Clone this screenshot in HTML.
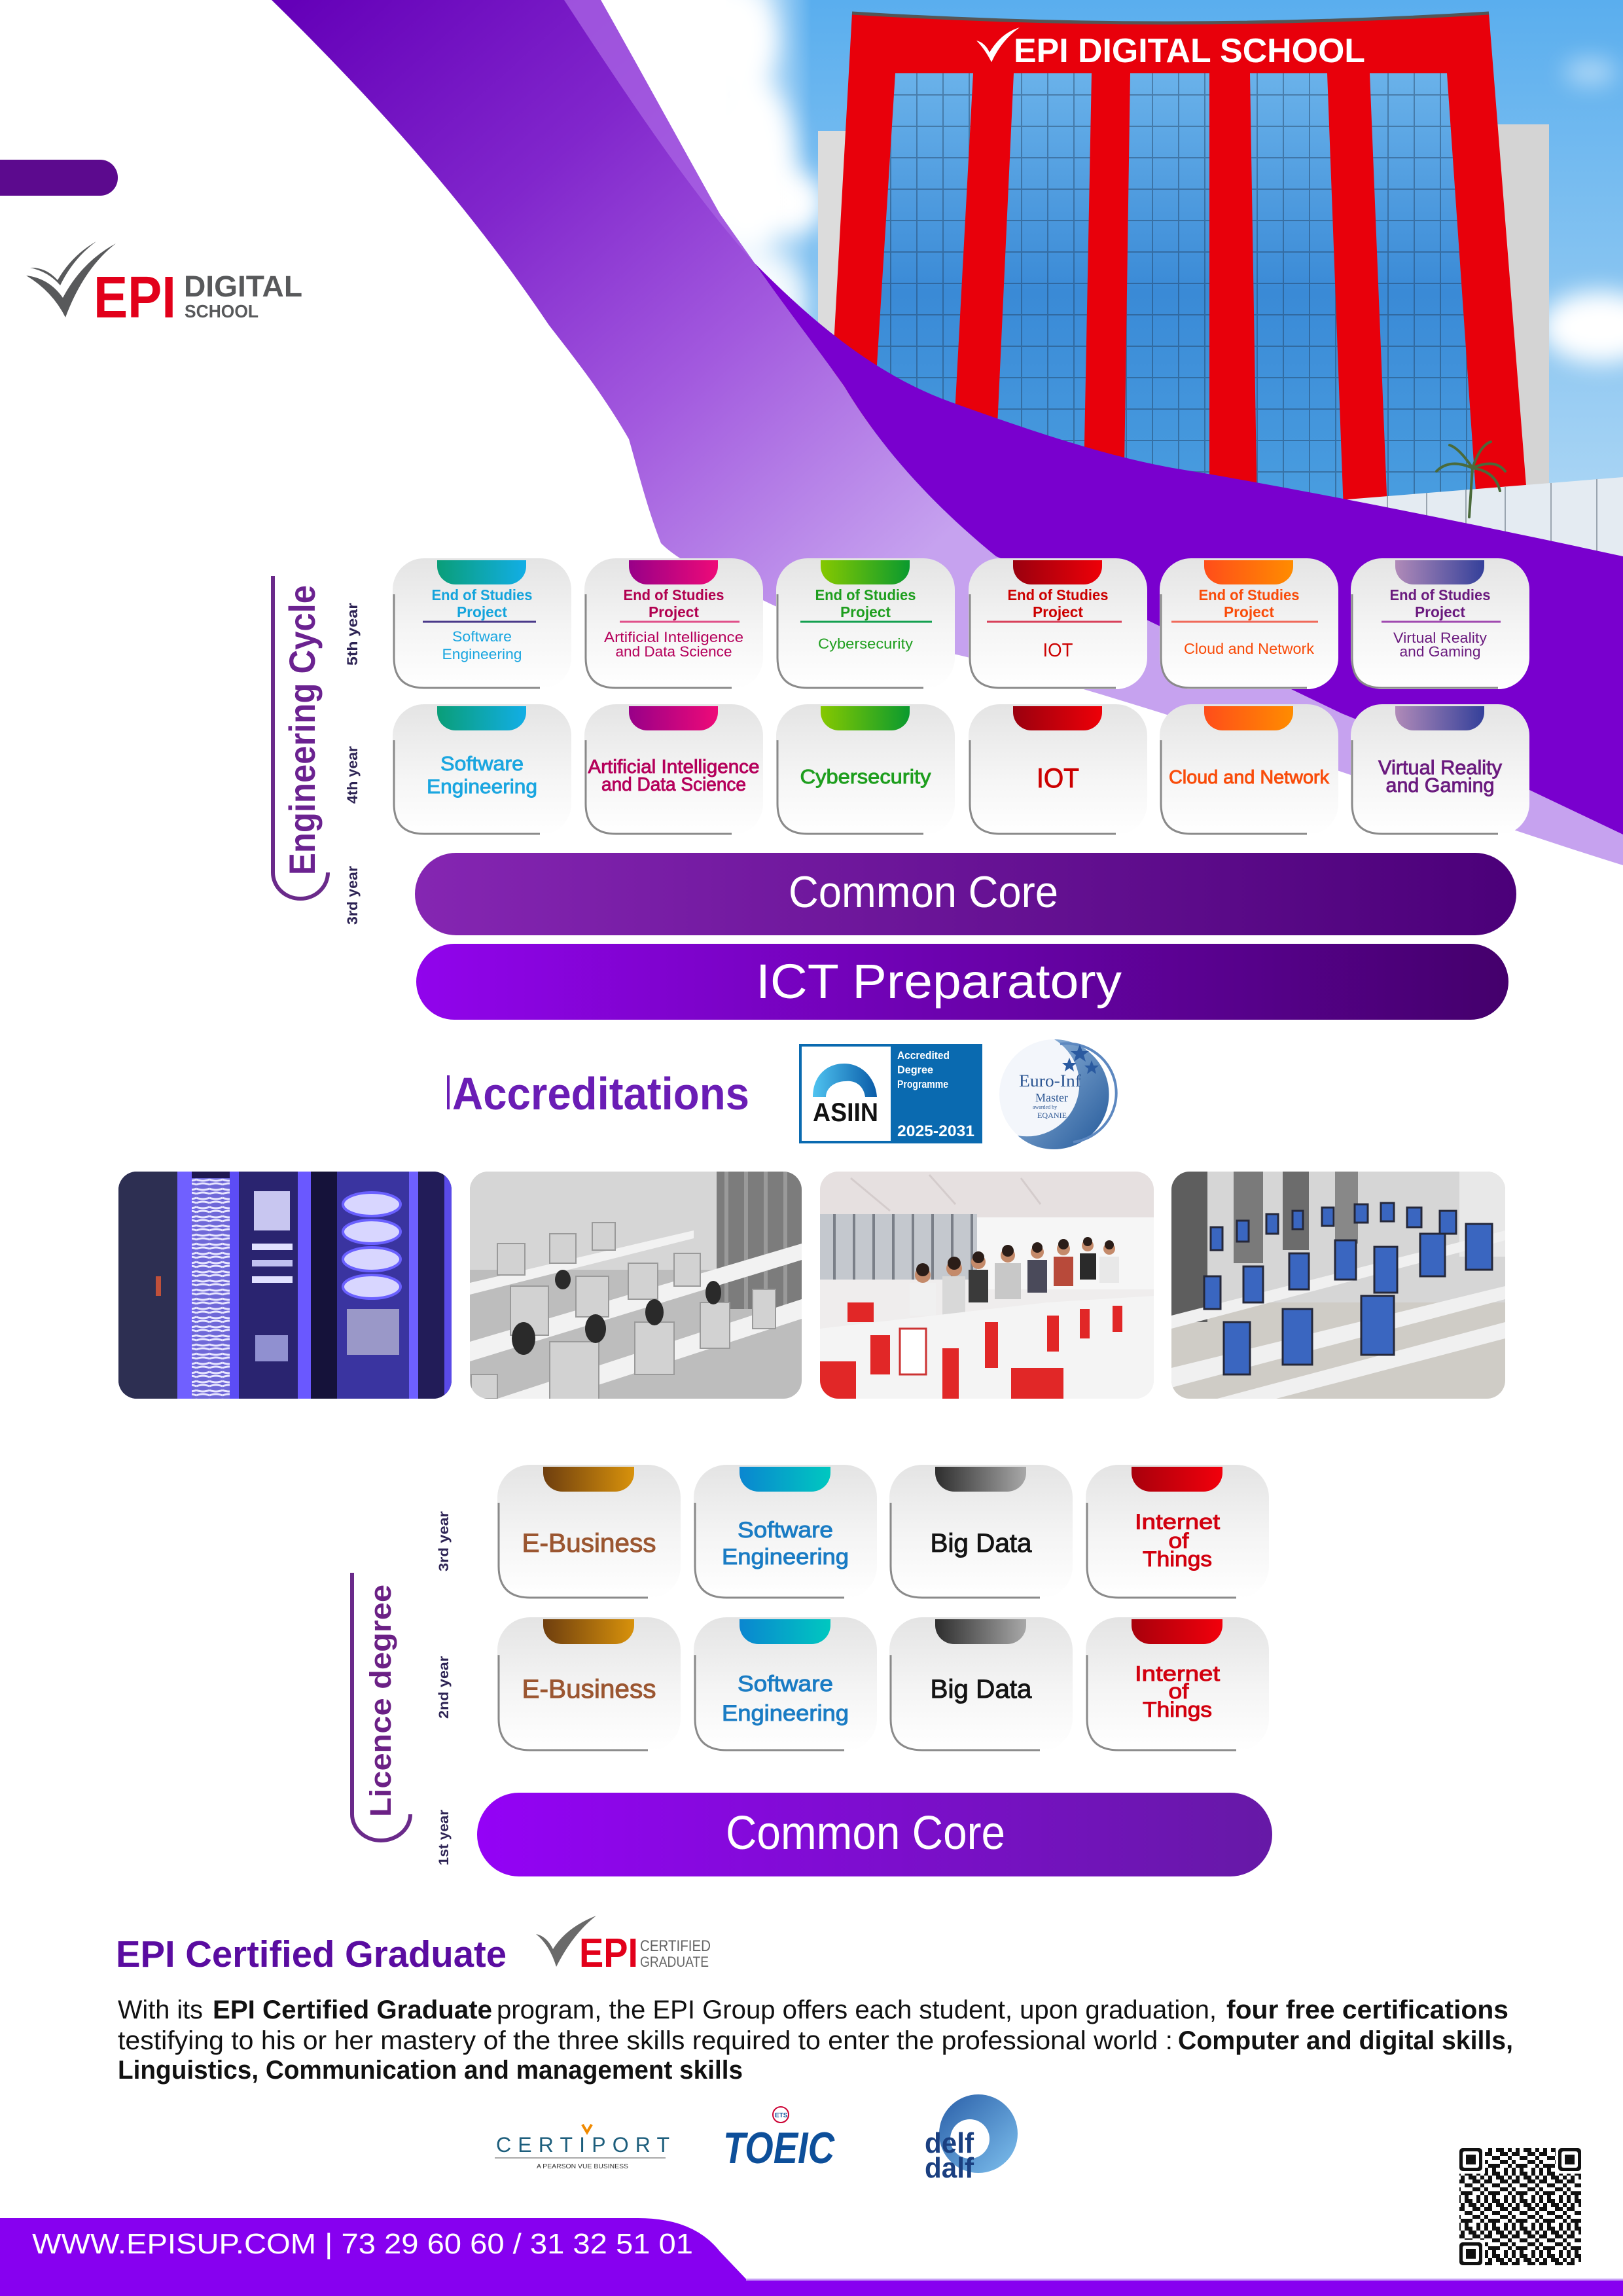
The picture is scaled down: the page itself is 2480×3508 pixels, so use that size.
<!DOCTYPE html>
<html><head><meta charset="utf-8"><style>html,body{margin:0;padding:0;background:#fff}svg{display:block}</style></head>
<body>
<svg xmlns="http://www.w3.org/2000/svg" width="2480" height="3508" viewBox="0 0 2480 3508" font-family="'Liberation Sans', sans-serif">
<defs>
<linearGradient id="sky" x1="0" y1="0" x2="0" y2="1"><stop offset="0" stop-color="#5aaeee"/><stop offset="1" stop-color="#b8dcf5"/></linearGradient>
<linearGradient id="skyFade" x1="0" y1="0" x2="1" y2="0"><stop offset="0" stop-color="#fff"/><stop offset=".45" stop-color="#fff" stop-opacity=".7"/><stop offset="1" stop-color="#fff" stop-opacity="0"/></linearGradient>
<linearGradient id="glass" x1="0" y1="0" x2="0" y2="1"><stop offset="0" stop-color="#6ab2ea"/><stop offset=".5" stop-color="#3a8ad6"/><stop offset="1" stop-color="#4a9ee0"/></linearGradient>
<pattern id="grid" width="40" height="48" patternUnits="userSpaceOnUse"><path d="M0,1H40M1,0V48" stroke="#1c3450" stroke-width="2" opacity=".4"/></pattern>
<linearGradient id="bandG" gradientUnits="userSpaceOnUse" x1="450" y1="0" x2="1300" y2="950"><stop offset="0" stop-color="#6400b8"/><stop offset=".35" stop-color="#8126cc"/><stop offset=".65" stop-color="#a259de"/><stop offset="1" stop-color="#c6a2ef"/></linearGradient>
<linearGradient id="cardG" x1="0" y1="0" x2="0" y2="1"><stop offset="0" stop-color="#e4e4e4"/><stop offset=".55" stop-color="#f5f5f5"/><stop offset="1" stop-color="#ffffff"/></linearGradient>
<linearGradient id="tSW"><stop offset="0" stop-color="#0a9e78"/><stop offset="1" stop-color="#12aee6"/></linearGradient>
<linearGradient id="tAI"><stop offset="0" stop-color="#980088"/><stop offset="1" stop-color="#ee0a78"/></linearGradient>
<linearGradient id="tCY"><stop offset="0" stop-color="#86c800"/><stop offset="1" stop-color="#0a9a2e"/></linearGradient>
<linearGradient id="tIO"><stop offset="0" stop-color="#9a000e"/><stop offset="1" stop-color="#ee0008"/></linearGradient>
<linearGradient id="tCL"><stop offset="0" stop-color="#ff4d1a"/><stop offset="1" stop-color="#ff8c00"/></linearGradient>
<linearGradient id="tVR"><stop offset="0" stop-color="#b08ab8"/><stop offset="1" stop-color="#34409a"/></linearGradient>
<linearGradient id="tEB"><stop offset="0" stop-color="#6e3e0e"/><stop offset="1" stop-color="#d8920c"/></linearGradient>
<linearGradient id="tSE"><stop offset="0" stop-color="#0a86d0"/><stop offset="1" stop-color="#00c8c0"/></linearGradient>
<linearGradient id="tBD"><stop offset="0" stop-color="#2e2e2e"/><stop offset="1" stop-color="#a8a8a8"/></linearGradient>
<linearGradient id="tIT"><stop offset="0" stop-color="#a8000c"/><stop offset="1" stop-color="#f2000c"/></linearGradient>
<linearGradient id="cc1G"><stop offset="0" stop-color="#8526b2"/><stop offset="1" stop-color="#4b0079"/></linearGradient>
<linearGradient id="ictG"><stop offset="0" stop-color="#9104ec"/><stop offset="1" stop-color="#44006c"/></linearGradient>
<linearGradient id="cc2G"><stop offset="0" stop-color="#9402f6"/><stop offset="1" stop-color="#6619a6"/></linearGradient>
<linearGradient id="brE" x1="0" y1="0" x2="0" y2="1"><stop offset="0" stop-color="#6a2a8a" stop-opacity="0"/><stop offset=".4" stop-color="#d9c6e4"/><stop offset="1" stop-color="#6a2a8a"/></linearGradient>
<linearGradient id="archG" x1="0" y1="0" x2="1" y2="0"><stop offset="0" stop-color="#4fc3f0"/><stop offset="1" stop-color="#0a5ca8"/></linearGradient>
<linearGradient id="euroG" x1="0" y1="0" x2="1" y2="1"><stop offset="0" stop-color="#9cbde0"/><stop offset="1" stop-color="#23599a"/></linearGradient>
<linearGradient id="delfG" x1="0" y1="0" x2="1" y2="1"><stop offset="0" stop-color="#2a5fa8"/><stop offset="1" stop-color="#7ec0ee"/></linearGradient>
<filter id="blur" x="-50%" y="-50%" width="200%" height="200%"><feGaussianBlur stdDeviation="18"/></filter>
<pattern id="cable" width="20" height="14" patternUnits="userSpaceOnUse"><rect width="20" height="14" fill="#6f68d8"/><path d="M0,4 Q10,0 20,4 M0,10 Q10,14 20,10" stroke="#e8e6ff" stroke-width="3" fill="none"/></pattern>
<pattern id="qr" width="42" height="42" patternUnits="userSpaceOnUse"><g fill="#111"><rect x="0" y="0" width="6" height="6"/><rect x="12" y="0" width="6" height="6"/><rect x="18" y="0" width="6" height="6"/><rect x="30" y="0" width="6" height="6"/><rect x="6" y="6" width="6" height="6"/><rect x="18" y="6" width="6" height="6"/><rect x="24" y="6" width="6" height="6"/><rect x="36" y="6" width="6" height="6"/><rect x="0" y="12" width="6" height="6"/><rect x="6" y="12" width="6" height="6"/><rect x="24" y="12" width="6" height="6"/><rect x="30" y="12" width="6" height="6"/><rect x="12" y="18" width="6" height="6"/><rect x="18" y="18" width="6" height="6"/><rect x="36" y="18" width="6" height="6"/><rect x="0" y="24" width="6" height="6"/><rect x="24" y="24" width="6" height="6"/><rect x="30" y="24" width="6" height="6"/><rect x="6" y="30" width="6" height="6"/><rect x="12" y="30" width="6" height="6"/><rect x="18" y="30" width="6" height="6"/><rect x="36" y="30" width="6" height="6"/><rect x="0" y="36" width="6" height="6"/><rect x="12" y="36" width="6" height="6"/><rect x="30" y="36" width="6" height="6"/></g></pattern>
<clipPath id="cp1"><rect x="181" y="1790" width="509" height="347" rx="28"/></clipPath>
<clipPath id="cp2"><rect x="718" y="1790" width="507" height="347" rx="28"/></clipPath>
<clipPath id="cp3"><rect x="1253" y="1790" width="510" height="347" rx="28"/></clipPath>
<clipPath id="cp4"><rect x="1790" y="1790" width="510" height="347" rx="28"/></clipPath>
<g id="cE"><rect width="273" height="200" rx="48" fill="url(#cardG)"/><path d="M2,55 V152 Q2,198 48,198 H225" fill="none" stroke="#8a8a8a" stroke-width="3"/></g>
<g id="cL"><rect width="280" height="205" rx="50" fill="url(#cardG)"/><path d="M2,58 V155 Q2,203 50,203 H230" fill="none" stroke="#8a8a8a" stroke-width="3"/></g>
</defs>

<!-- ===== SKY / BUILDING ===== -->
<rect x="1110" y="0" width="1370" height="900" fill="url(#sky)"/>
<g filter="url(#blur)" fill="#fff">
<ellipse cx="1125" cy="60" rx="60" ry="80"/><ellipse cx="1145" cy="250" rx="70" ry="130"/><ellipse cx="1210" cy="310" rx="50" ry="50"/><ellipse cx="1170" cy="460" rx="60" ry="70" opacity=".85"/><ellipse cx="2445" cy="500" rx="90" ry="55"/><ellipse cx="2430" cy="110" rx="40" ry="20" opacity=".5"/>
</g>
<rect x="1100" y="0" width="140" height="600" fill="url(#skyFade)"/>
<polygon points="1250,200 1302,200 1290,600 1250,600" fill="#dcdcdc"/>
<polygon points="2275,190 2367,190 2367,780 2330,780" fill="#d4d4d4"/>
<path d="M1302,20 Q1786,50 2275,20 L2335,780 L1260,780 Z" fill="#e8000b"/>
<path d="M1302,20 Q1786,50 2275,20" stroke="#555" stroke-width="5" fill="none"/>
<g fill="url(#glass)">
<polygon points="1368,112 1487,112 1451,780 1326,780"/>
<polygon points="1549,112 1668,112 1655,780 1518,780"/>
<polygon points="1727,112 1848,112 1848,780 1717,780"/>
<polygon points="1910,112 2028,112 2053,780 1921,780"/>
<polygon points="2093,112 2211,112 2257,780 2120,780"/>
</g>
<g fill="url(#grid)">
<polygon points="1368,112 1487,112 1451,780 1326,780"/>
<polygon points="1549,112 1668,112 1655,780 1518,780"/>
<polygon points="1727,112 1848,112 1848,780 1717,780"/>
<polygon points="1910,112 2028,112 2053,780 1921,780"/>
<polygon points="2093,112 2211,112 2257,780 2120,780"/>
</g>
<path d="M1492,62 Q1505,65 1512,80 Q1530,50 1558,42 Q1530,62 1515,95 Q1505,75 1492,62 Z" fill="#fff"/>
<text x="1549" y="95" font-size="52" font-weight="bold" fill="#fff" textLength="537" lengthAdjust="spacingAndGlyphs">EPI DIGITAL  SCHOOL</text>
<polygon points="2059,763 2480,729 2480,900 2059,900" fill="#e4ebf2"/>
<g stroke="#9aa5b0" stroke-width="2"><line x1="2120" y1="758" x2="2120" y2="900"/><line x1="2180" y1="753" x2="2180" y2="900"/><line x1="2240" y1="748" x2="2240" y2="900"/><line x1="2300" y1="744" x2="2300" y2="900"/><line x1="2370" y1="738" x2="2370" y2="900"/><line x1="2440" y1="732" x2="2440" y2="900"/></g>
<g stroke="#4a6a3a" stroke-width="4" fill="none" stroke-linecap="round">
<path d="M2245,790 L2250,715"/><path d="M2250,715 Q2215,700 2195,720"/><path d="M2250,715 Q2230,685 2215,680"/><path d="M2250,715 Q2262,680 2278,675"/><path d="M2250,715 Q2285,700 2300,720"/><path d="M2250,715 Q2285,720 2292,750"/>
</g>

<!-- ===== PURPLE SWOOSH ===== -->
<path d="M415,0 L918,0 C980,110 1040,220 1100,327 L1153,402 C1200,470 1240,520 1290,590 C1350,690 1430,775 1522,850 L1752,947 L2050,1090 L2337,1207 L2480,1275 L2480,1322 C2200,1235 1800,1085 1474,1003 C1320,968 1220,945 1172,920 C1090,880 1040,860 1010,830 C990,780 975,720 961,671 C920,600 880,550 839,497 C760,380 640,220 415,0 Z" fill="url(#bandG)"/>
<path d="M862,0 L918,0 C980,110 1040,220 1100,327 L1153,402 C1060,300 960,150 862,0 Z" fill="#a862e2" opacity=".8"/>
<path d="M1153,402 C1230,480 1330,570 1452,614 C1580,660 1700,700 1804,717 C1980,746 2250,800 2480,850 L2480,1275 L2337,1207 L2050,1090 L1752,947 L1522,850 C1430,775 1350,690 1290,590 C1240,520 1200,470 1153,402 Z" fill="#7900ce"/>

<!-- top-left tab & logo -->
<rect x="-40" y="244" width="220" height="55" rx="27" fill="#5c0a8e"/>
<path d="M40,421 Q75,425 96,455 Q125,400 177,372 Q128,410 100,485 Q80,445 40,421 Z" fill="#58595b"/>
<path d="M46,409 Q70,408 88,428 Q110,390 147,369 Q112,395 92,436 Q74,415 46,409 Z" fill="#58595b"/>
<text x="143" y="485" font-size="90" font-weight="bold" fill="#e2001a" textLength="126" lengthAdjust="spacingAndGlyphs">EPI</text>
<text x="281" y="453" font-size="45" font-weight="bold" fill="#58595b" textLength="181" lengthAdjust="spacingAndGlyphs">DIGITAL</text>
<text x="282" y="485" font-size="28" font-weight="bold" fill="#58595b" textLength="113" lengthAdjust="spacingAndGlyphs">SCHOOL</text>

<!-- ===== ENGINEERING CYCLE ===== -->
<path d="M417,880 V1333 A42,40 0 0 0 459,1373 A42,40 0 0 0 501,1333" fill="none" stroke="#6a2a8a" stroke-width="6"/>
<path d="M501,1333 V880" fill="none" stroke="url(#brE)" stroke-width="5"/>
<text transform="translate(481,1337) rotate(-90)" font-size="56" font-weight="bold" fill="#6b2290" textLength="443" lengthAdjust="spacingAndGlyphs">Engineering Cycle</text>
<g font-size="22" font-weight="bold" fill="#2d2354">
<text transform="translate(546,1017) rotate(-90)" textLength="96" lengthAdjust="spacingAndGlyphs">5th year</text>
<text transform="translate(546,1228) rotate(-90)" textLength="88" lengthAdjust="spacingAndGlyphs">4th year</text>
<text transform="translate(546,1413) rotate(-90)" textLength="90" lengthAdjust="spacingAndGlyphs">3rd year</text>
</g>

<use href="#cE" x="600" y="853"/><use href="#cE" x="893" y="853"/><use href="#cE" x="1186" y="853"/><use href="#cE" x="1480" y="853"/><use href="#cE" x="1772" y="853"/><use href="#cE" x="2064" y="853"/>
<use href="#cE" x="600" y="1076"/><use href="#cE" x="893" y="1076"/><use href="#cE" x="1186" y="1076"/><use href="#cE" x="1480" y="1076"/><use href="#cE" x="1772" y="1076"/><use href="#cE" x="2064" y="1076"/>
<g>
<path transform="translate(600,853)" d="M68,3 H204 V12 A28,28 0 0 1 176,40 H96 A28,28 0 0 1 68,12 Z" fill="url(#tSW)"/>
<path transform="translate(893,853)" d="M68,3 H204 V12 A28,28 0 0 1 176,40 H96 A28,28 0 0 1 68,12 Z" fill="url(#tAI)"/>
<path transform="translate(1186,853)" d="M68,3 H204 V12 A28,28 0 0 1 176,40 H96 A28,28 0 0 1 68,12 Z" fill="url(#tCY)"/>
<path transform="translate(1480,853)" d="M68,3 H204 V12 A28,28 0 0 1 176,40 H96 A28,28 0 0 1 68,12 Z" fill="url(#tIO)"/>
<path transform="translate(1772,853)" d="M68,3 H204 V12 A28,28 0 0 1 176,40 H96 A28,28 0 0 1 68,12 Z" fill="url(#tCL)"/>
<path transform="translate(2064,853)" d="M68,3 H204 V12 A28,28 0 0 1 176,40 H96 A28,28 0 0 1 68,12 Z" fill="url(#tVR)"/>
<path transform="translate(600,1076)" d="M68,3 H204 V12 A28,28 0 0 1 176,40 H96 A28,28 0 0 1 68,12 Z" fill="url(#tSW)"/>
<path transform="translate(893,1076)" d="M68,3 H204 V12 A28,28 0 0 1 176,40 H96 A28,28 0 0 1 68,12 Z" fill="url(#tAI)"/>
<path transform="translate(1186,1076)" d="M68,3 H204 V12 A28,28 0 0 1 176,40 H96 A28,28 0 0 1 68,12 Z" fill="url(#tCY)"/>
<path transform="translate(1480,1076)" d="M68,3 H204 V12 A28,28 0 0 1 176,40 H96 A28,28 0 0 1 68,12 Z" fill="url(#tIO)"/>
<path transform="translate(1772,1076)" d="M68,3 H204 V12 A28,28 0 0 1 176,40 H96 A28,28 0 0 1 68,12 Z" fill="url(#tCL)"/>
<path transform="translate(2064,1076)" d="M68,3 H204 V12 A28,28 0 0 1 176,40 H96 A28,28 0 0 1 68,12 Z" fill="url(#tVR)"/>
</g>
<g font-size="23" font-weight="bold">
<text x="659.5" y="917" fill="#14a4dc" textLength="154" lengthAdjust="spacingAndGlyphs">End of Studies</text>
<text x="698" y="943" fill="#14a4dc" textLength="77" lengthAdjust="spacingAndGlyphs">Project</text>
<text x="952.5" y="917" fill="#b1004f" textLength="154" lengthAdjust="spacingAndGlyphs">End of Studies</text>
<text x="991" y="943" fill="#b1004f" textLength="77" lengthAdjust="spacingAndGlyphs">Project</text>
<text x="1245.5" y="917" fill="#1e9e1e" textLength="154" lengthAdjust="spacingAndGlyphs">End of Studies</text>
<text x="1284" y="943" fill="#1e9e1e" textLength="77" lengthAdjust="spacingAndGlyphs">Project</text>
<text x="1539.5" y="917" fill="#cc0000" textLength="154" lengthAdjust="spacingAndGlyphs">End of Studies</text>
<text x="1578" y="943" fill="#cc0000" textLength="77" lengthAdjust="spacingAndGlyphs">Project</text>
<text x="1831.5" y="917" fill="#f94c0a" textLength="154" lengthAdjust="spacingAndGlyphs">End of Studies</text>
<text x="1870" y="943" fill="#f94c0a" textLength="77" lengthAdjust="spacingAndGlyphs">Project</text>
<text x="2123.5" y="917" fill="#6a1a7e" textLength="154" lengthAdjust="spacingAndGlyphs">End of Studies</text>
<text x="2162" y="943" fill="#6a1a7e" textLength="77" lengthAdjust="spacingAndGlyphs">Project</text>
</g>
<g stroke-width="3">
<line x1="646" y1="950" x2="819" y2="950" stroke="#4a3a8a"/>
<line x1="947" y1="950" x2="1130" y2="950" stroke="#e0508a"/>
<line x1="1223" y1="950" x2="1424" y2="950" stroke="#14a050"/>
<line x1="1508" y1="950" x2="1714" y2="950" stroke="#d8405a"/>
<line x1="1790" y1="950" x2="2014" y2="950" stroke="#f06a5a"/>
<line x1="2111" y1="950" x2="2293" y2="950" stroke="#a04ab0"/>
</g>
<g font-size="22">
<text x="691" y="980" fill="#1aa6e0" textLength="91" lengthAdjust="spacingAndGlyphs">Software</text>
<text x="675.5" y="1007" fill="#1aa6e0" textLength="122" lengthAdjust="spacingAndGlyphs">Engineering</text>
<text x="923" y="981" fill="#b5005b" textLength="213" lengthAdjust="spacingAndGlyphs">Artificial Intelligence</text>
<text x="940.5" y="1003" fill="#b5005b" textLength="178" lengthAdjust="spacingAndGlyphs">and Data Science</text>
<text x="1250" y="991" fill="#1e9e1e" textLength="145" lengthAdjust="spacingAndGlyphs">Cybersecurity</text>
<text x="1593.5" y="1003" font-size="29" fill="#cc0000" textLength="46" lengthAdjust="spacingAndGlyphs">IOT</text>
<text x="1809" y="999" font-size="23" fill="#f94c0a" textLength="199" lengthAdjust="spacingAndGlyphs">Cloud and Network</text>
<text x="2129" y="982" fill="#6a1a7e" textLength="143" lengthAdjust="spacingAndGlyphs">Virtual Reality</text>
<text x="2138.5" y="1003" fill="#6a1a7e" textLength="124" lengthAdjust="spacingAndGlyphs">and Gaming</text>
</g>
<g stroke-width="0.9">
<text x="673" y="1177" font-size="31" fill="#1aa6e0" stroke="#1aa6e0" textLength="127" lengthAdjust="spacingAndGlyphs">Software</text>
<text x="652" y="1212" font-size="31" fill="#1aa6e0" stroke="#1aa6e0" textLength="169" lengthAdjust="spacingAndGlyphs">Engineering</text>
<text x="898.5" y="1181" font-size="29" fill="#b5005b" stroke="#b5005b" textLength="262" lengthAdjust="spacingAndGlyphs">Artificial Intelligence</text>
<text x="919" y="1208" font-size="29" fill="#b5005b" stroke="#b5005b" textLength="221" lengthAdjust="spacingAndGlyphs">and Data Science</text>
<text x="1222.5" y="1197" font-size="31" fill="#1e9e1e" stroke="#1e9e1e" textLength="200" lengthAdjust="spacingAndGlyphs">Cybersecurity</text>
<text x="1584" y="1203" font-size="42" fill="#cc0000" stroke="#cc0000" textLength="65" lengthAdjust="spacingAndGlyphs">IOT</text>
<text x="1786" y="1197" font-size="29" fill="#f94c0a" stroke="#f94c0a" textLength="245" lengthAdjust="spacingAndGlyphs">Cloud and Network</text>
<text x="2106" y="1183" font-size="31" fill="#6a1a7e" stroke="#6a1a7e" textLength="189" lengthAdjust="spacingAndGlyphs">Virtual Reality</text>
<text x="2117.5" y="1210" font-size="31" fill="#6a1a7e" stroke="#6a1a7e" textLength="166" lengthAdjust="spacingAndGlyphs">and Gaming</text>
</g>

<rect x="634" y="1303" width="1683" height="126" rx="63" fill="url(#cc1G)"/>
<text x="1205" y="1386" font-size="68" fill="#fff" textLength="412" lengthAdjust="spacingAndGlyphs">Common Core</text>
<rect x="636" y="1442" width="1669" height="116" rx="58" fill="url(#ictG)"/>
<text x="1155" y="1525" font-size="74" fill="#fff" textLength="559" lengthAdjust="spacingAndGlyphs">ICT Preparatory</text>

<!-- ===== ACCREDITATIONS ===== -->
<rect x="683" y="1643" width="4" height="52" fill="#6a1db5"/>
<text x="691" y="1695" font-size="70" font-weight="bold" fill="#6a1db5" textLength="454" lengthAdjust="spacingAndGlyphs">Accreditations</text>
<rect x="1221" y="1595" width="280" height="152" fill="#0a6ab0"/>
<rect x="1225" y="1599" width="136" height="144" fill="#fff"/>
<path d="M1242,1676 C1242,1645 1262,1625 1290,1625 C1318,1625 1338,1648 1340,1676 L1322,1676 C1320,1660 1308,1650 1292,1652 C1276,1652 1262,1662 1262,1676 Z" fill="url(#archG)"/>
<text x="1242" y="1713" font-size="40" font-weight="bold" fill="#111" textLength="100" lengthAdjust="spacingAndGlyphs">ASIIN</text>
<g font-size="17" font-weight="bold" fill="#fff">
<text x="1371" y="1618" textLength="80" lengthAdjust="spacingAndGlyphs">Accredited</text>
<text x="1371" y="1640" textLength="55" lengthAdjust="spacingAndGlyphs">Degree</text>
<text x="1371" y="1662" textLength="78" lengthAdjust="spacingAndGlyphs">Programme</text>
<text x="1371" y="1736" font-size="24" textLength="118" lengthAdjust="spacingAndGlyphs">2025-2031</text>
</g>
<circle cx="1611" cy="1672" r="84" fill="#f3f6fb"/>
<path d="M1611,1588 A84,84 0 1 1 1555,1735 A80,80 0 0 0 1611,1588 Z" fill="url(#euroG)"/>
<path d="M1620,1595 A75,75 0 0 1 1640,1745" fill="none" stroke="#5d88c0" stroke-width="4"/>
<g fill="#2a5aa0"><polygon points="1650,1596 1654,1606 1664,1606 1656,1612 1659,1622 1650,1616 1641,1622 1644,1612 1636,1606 1646,1606"/><polygon points="1668,1620 1671,1628 1679,1628 1673,1633 1675,1641 1668,1636 1661,1641 1663,1633 1657,1628 1665,1628"/><polygon points="1634,1616 1637,1624 1645,1624 1639,1629 1641,1637 1634,1632 1627,1637 1629,1629 1623,1624 1631,1624"/></g>
<g font-family="'Liberation Serif', serif" fill="#2b5592">
<text x="1557" y="1660" font-size="26" textLength="95" lengthAdjust="spacingAndGlyphs">Euro-Inf</text>
<text x="1582" y="1683" font-size="18" textLength="50" lengthAdjust="spacingAndGlyphs">Master</text>
<text x="1578" y="1694" font-size="8">awarded by</text>
<text x="1585" y="1708" font-size="12" textLength="45" lengthAdjust="spacingAndGlyphs">EQANIE</text>
</g>

<!-- ===== PHOTOS ===== -->
<g clip-path="url(#cp1)">
<rect x="181" y="1790" width="509" height="347" fill="#1f1852"/>
<rect x="181" y="1790" width="90" height="347" fill="#2d2f52"/>
<rect x="238" y="1950" width="8" height="30" fill="#c0503a"/>
<rect x="271" y="1790" width="22" height="347" fill="#7060ff"/>
<rect x="293" y="1800" width="58" height="337" fill="url(#cable)"/>
<rect x="351" y="1790" width="14" height="347" fill="#5c4cf5"/>
<rect x="365" y="1790" width="90" height="347" fill="#2a2470"/>
<rect x="388" y="1820" width="55" height="60" fill="#c8c6f0"/>
<rect x="385" y="1900" width="62" height="10" fill="#e0e0ff"/><rect x="385" y="1925" width="62" height="10" fill="#c0c0f0"/><rect x="385" y="1950" width="62" height="10" fill="#e0e0ff"/>
<rect x="390" y="2040" width="50" height="40" fill="#9090d0"/>
<rect x="455" y="1790" width="20" height="347" fill="#6a58ff"/>
<rect x="475" y="1790" width="40" height="347" fill="#15123a"/>
<rect x="515" y="1790" width="110" height="347" fill="#3a34a0"/>
<g fill="#d8d6ff" stroke="#6a60ff" stroke-width="4"><ellipse cx="568" cy="1840" rx="44" ry="18"/><ellipse cx="568" cy="1882" rx="44" ry="18"/><ellipse cx="568" cy="1924" rx="44" ry="18"/><ellipse cx="568" cy="1966" rx="44" ry="18"/></g>
<rect x="530" y="2000" width="80" height="70" fill="#9a98c8"/>
<rect x="625" y="1790" width="14" height="347" fill="#6e60ff"/>
<rect x="639" y="1790" width="40" height="347" fill="#221c58"/>
<rect x="679" y="1790" width="11" height="347" fill="#5a4ae8"/>
</g>
<g clip-path="url(#cp2)">
<rect x="718" y="1790" width="507" height="347" fill="#bdbdbd"/>
<rect x="718" y="1790" width="507" height="150" fill="#d6d6d6"/>
<rect x="1095" y="1790" width="130" height="210" fill="#7c7c7c"/>
<g stroke="#9a9a9a" stroke-width="6"><line x1="1110" y1="1790" x2="1110" y2="2000"/><line x1="1140" y1="1790" x2="1140" y2="2000"/><line x1="1170" y1="1790" x2="1170" y2="2000"/><line x1="1200" y1="1790" x2="1200" y2="2000"/></g>
<g fill="#f2f2f2"><polygon points="718,1960 1060,1880 1060,1892 718,1978"/><polygon points="718,2050 1225,1900 1225,1925 718,2080"/><polygon points="760,2137 1225,1985 1225,2015 850,2137"/></g>
<g fill="#d2d2d2" stroke="#9a9a9a" stroke-width="2"><rect x="760" y="1900" width="42" height="48"/><rect x="840" y="1885" width="40" height="45"/><rect x="905" y="1868" width="35" height="42"/><rect x="780" y="1965" width="58" height="75"/><rect x="880" y="1950" width="50" height="62"/><rect x="960" y="1930" width="45" height="55"/><rect x="1030" y="1915" width="40" height="50"/><rect x="840" y="2050" width="75" height="90"/><rect x="970" y="2020" width="60" height="80"/><rect x="1070" y="1990" width="45" height="70"/><rect x="1150" y="1970" width="35" height="60"/><rect x="720" y="2100" width="40" height="37"/></g>
<g fill="#2a2a2a"><ellipse cx="800" cy="2045" rx="18" ry="25"/><ellipse cx="910" cy="2030" rx="16" ry="22"/><ellipse cx="1000" cy="2005" rx="14" ry="20"/><ellipse cx="1090" cy="1975" rx="12" ry="18"/><ellipse cx="860" cy="1955" rx="12" ry="15"/></g>
</g>
<g clip-path="url(#cp3)">
<rect x="1253" y="1790" width="510" height="347" fill="#efeded"/>
<rect x="1253" y="1790" width="510" height="70" fill="#e6e0e0"/>
<g stroke="#d4cccc" stroke-width="3"><line x1="1300" y1="1800" x2="1360" y2="1850"/><line x1="1420" y1="1795" x2="1460" y2="1840"/><line x1="1560" y1="1800" x2="1590" y2="1840"/></g>
<rect x="1253" y="1855" width="240" height="100" fill="#c4c8ce"/>
<g stroke="#7a7f88" stroke-width="4"><line x1="1275" y1="1855" x2="1275" y2="1955"/><line x1="1305" y1="1855" x2="1305" y2="1955"/><line x1="1335" y1="1855" x2="1335" y2="1955"/><line x1="1365" y1="1855" x2="1365" y2="1955"/><line x1="1395" y1="1855" x2="1395" y2="1955"/><line x1="1425" y1="1855" x2="1425" y2="1955"/><line x1="1455" y1="1855" x2="1455" y2="1955"/><line x1="1485" y1="1855" x2="1485" y2="1955"/></g>
<rect x="1493" y="1860" width="270" height="110" fill="#f6f6f6"/>
<rect x="1390" y="1960" width="40" height="50" fill="#f0f0f0"/><rect x="1440" y="1950" width="35" height="60" fill="#d8d8d8"/><rect x="1480" y="1940" width="30" height="50" fill="#3a3a3a"/><rect x="1520" y="1930" width="40" height="55" fill="#c8c8c8"/><rect x="1570" y="1925" width="30" height="50" fill="#4a4a5a"/><rect x="1610" y="1920" width="30" height="45" fill="#b84a3a"/><rect x="1650" y="1915" width="25" height="40" fill="#2a2a2a"/><rect x="1680" y="1920" width="30" height="40" fill="#e8e8e8"/>
<g fill="#c48a6a"><circle cx="1410" cy="1948" r="12"/><circle cx="1458" cy="1938" r="12"/><circle cx="1495" cy="1928" r="11"/><circle cx="1540" cy="1918" r="11"/><circle cx="1585" cy="1913" r="10"/><circle cx="1625" cy="1908" r="10"/><circle cx="1662" cy="1903" r="9"/><circle cx="1695" cy="1908" r="9"/></g>
<g fill="#2b1d18"><circle cx="1410" cy="1940" r="10"/><circle cx="1458" cy="1930" r="10"/><circle cx="1495" cy="1921" r="9"/><circle cx="1540" cy="1911" r="9"/><circle cx="1585" cy="1906" r="8"/><circle cx="1625" cy="1901" r="8"/><circle cx="1662" cy="1897" r="7"/><circle cx="1695" cy="1902" r="7"/></g>
<polygon points="1253,2030 1600,1990 1763,1980 1763,2137 1253,2137" fill="#f4f4f4"/>
<g fill="#e12727"><rect x="1253" y="2080" width="55" height="57"/><rect x="1330" y="2040" width="30" height="60"/><rect x="1440" y="2060" width="25" height="77"/><rect x="1505" y="2020" width="20" height="70"/><rect x="1545" y="2090" width="80" height="47"/><rect x="1600" y="2010" width="18" height="55"/><rect x="1650" y="2000" width="15" height="45"/><rect x="1700" y="1995" width="15" height="40"/><rect x="1295" y="1990" width="40" height="30"/></g>
<rect x="1375" y="2030" width="40" height="70" fill="#fff" stroke="#cc3333" stroke-width="3"/>
</g>
<g clip-path="url(#cp4)">
<rect x="1790" y="1790" width="510" height="347" fill="#cfccc6"/>
<rect x="1790" y="1790" width="510" height="200" fill="#d6d6d6"/>
<rect x="1790" y="1790" width="55" height="230" fill="#5e5e5e"/><rect x="1885" y="1790" width="45" height="140" fill="#7a7a7a"/><rect x="1960" y="1790" width="40" height="120" fill="#6c6c6c"/><rect x="2040" y="1790" width="35" height="110" fill="#888"/>
<rect x="2230" y="1790" width="70" height="130" fill="#e8e8e8"/>
<g fill="#f0f0f0"><polygon points="1790,2010 2300,1880 2300,1895 1790,2030"/><polygon points="1790,2090 2300,1965 2300,1985 1790,2120"/><polygon points="1860,2137 2300,2020 2300,2045 1950,2137"/></g>
<g fill="#3a66c0" stroke="#25283a" stroke-width="3"><rect x="1850" y="1875" width="18" height="35"/><rect x="1890" y="1865" width="18" height="32"/><rect x="1935" y="1855" width="18" height="30"/><rect x="1975" y="1850" width="16" height="28"/><rect x="2020" y="1845" width="18" height="28"/><rect x="2070" y="1840" width="20" height="28"/><rect x="2110" y="1838" width="20" height="28"/><rect x="2150" y="1845" width="22" height="30"/><rect x="2200" y="1850" width="25" height="35"/><rect x="1840" y="1950" width="25" height="50"/><rect x="1900" y="1935" width="30" height="55"/><rect x="1970" y="1915" width="30" height="55"/><rect x="2040" y="1895" width="32" height="60"/><rect x="2100" y="1905" width="35" height="70"/><rect x="2170" y="1885" width="38" height="65"/><rect x="2240" y="1870" width="40" height="70"/><rect x="1870" y="2020" width="40" height="80"/><rect x="1960" y="2000" width="45" height="85"/><rect x="2080" y="1980" width="50" height="90"/></g>
</g>

<!-- ===== LICENCE ===== -->
<path d="M538,2403 V2772 A44,40 0 0 0 582,2812 A45,40 0 0 0 627,2772" fill="none" stroke="#6a2a8a" stroke-width="6"/>
<path d="M627,2772 V2403" fill="none" stroke="url(#brE)" stroke-width="5"/>
<text transform="translate(597,2776) rotate(-90)" font-size="45" font-weight="bold" fill="#6b2085" textLength="355" lengthAdjust="spacingAndGlyphs">Licence degree</text>
<g font-size="21" font-weight="bold" fill="#2d2354">
<text transform="translate(685,2401) rotate(-90)" textLength="92" lengthAdjust="spacingAndGlyphs">3rd year</text>
<text transform="translate(685,2626) rotate(-90)" textLength="96" lengthAdjust="spacingAndGlyphs">2nd year</text>
<text transform="translate(685,2850) rotate(-90)" textLength="85" lengthAdjust="spacingAndGlyphs">1st year</text>
</g>
<use href="#cL" x="760" y="2238"/><use href="#cL" x="1060" y="2238"/><use href="#cL" x="1359" y="2238"/><use href="#cL" x="1659" y="2238"/>
<use href="#cL" x="760" y="2471"/><use href="#cL" x="1060" y="2471"/><use href="#cL" x="1359" y="2471"/><use href="#cL" x="1659" y="2471"/>
<path transform="translate(760,2238)" d="M70,3 H209 V12 A29,29 0 0 1 180,41 H99 A29,29 0 0 1 70,12 Z" fill="url(#tEB)"/>
<path transform="translate(1060,2238)" d="M70,3 H209 V12 A29,29 0 0 1 180,41 H99 A29,29 0 0 1 70,12 Z" fill="url(#tSE)"/>
<path transform="translate(1359,2238)" d="M70,3 H209 V12 A29,29 0 0 1 180,41 H99 A29,29 0 0 1 70,12 Z" fill="url(#tBD)"/>
<path transform="translate(1659,2238)" d="M70,3 H209 V12 A29,29 0 0 1 180,41 H99 A29,29 0 0 1 70,12 Z" fill="url(#tIT)"/>
<path transform="translate(760,2471)" d="M70,3 H209 V12 A29,29 0 0 1 180,41 H99 A29,29 0 0 1 70,12 Z" fill="url(#tEB)"/>
<path transform="translate(1060,2471)" d="M70,3 H209 V12 A29,29 0 0 1 180,41 H99 A29,29 0 0 1 70,12 Z" fill="url(#tSE)"/>
<path transform="translate(1359,2471)" d="M70,3 H209 V12 A29,29 0 0 1 180,41 H99 A29,29 0 0 1 70,12 Z" fill="url(#tBD)"/>
<path transform="translate(1659,2471)" d="M70,3 H209 V12 A29,29 0 0 1 180,41 H99 A29,29 0 0 1 70,12 Z" fill="url(#tIT)"/>
<g stroke-width="1">
<text x="797.5" y="2371" font-size="40" fill="#9b5631" stroke="#9b5631" textLength="205" lengthAdjust="spacingAndGlyphs">E-Business</text>
<text x="1127" y="2349" font-size="34" fill="#1a7cc4" stroke="#1a7cc4" textLength="146" lengthAdjust="spacingAndGlyphs">Software</text>
<text x="1103" y="2390" font-size="34" fill="#1a7cc4" stroke="#1a7cc4" textLength="194" lengthAdjust="spacingAndGlyphs">Engineering</text>
<text x="1421.5" y="2371" font-size="40" fill="#141414" stroke="#141414" textLength="155" lengthAdjust="spacingAndGlyphs">Big Data</text>
<text x="1734" y="2336" font-size="32" fill="#d2000f" stroke="#d2000f" textLength="130" lengthAdjust="spacingAndGlyphs">Internet</text>
<text x="1785.5" y="2365" font-size="32" fill="#d2000f" stroke="#d2000f" textLength="31" lengthAdjust="spacingAndGlyphs">of</text>
<text x="1746" y="2393" font-size="32" fill="#d2000f" stroke="#d2000f" textLength="106" lengthAdjust="spacingAndGlyphs">Things</text>
<text x="797.5" y="2594" font-size="40" fill="#9b5631" stroke="#9b5631" textLength="205" lengthAdjust="spacingAndGlyphs">E-Business</text>
<text x="1127" y="2584" font-size="34" fill="#1a7cc4" stroke="#1a7cc4" textLength="146" lengthAdjust="spacingAndGlyphs">Software</text>
<text x="1103" y="2629" font-size="34" fill="#1a7cc4" stroke="#1a7cc4" textLength="194" lengthAdjust="spacingAndGlyphs">Engineering</text>
<text x="1421.5" y="2594" font-size="40" fill="#141414" stroke="#141414" textLength="155" lengthAdjust="spacingAndGlyphs">Big Data</text>
<text x="1734" y="2568" font-size="32" fill="#d2000f" stroke="#d2000f" textLength="130" lengthAdjust="spacingAndGlyphs">Internet</text>
<text x="1785.5" y="2595" font-size="32" fill="#d2000f" stroke="#d2000f" textLength="31" lengthAdjust="spacingAndGlyphs">of</text>
<text x="1746" y="2623" font-size="32" fill="#d2000f" stroke="#d2000f" textLength="106" lengthAdjust="spacingAndGlyphs">Things</text>
</g>
<rect x="729" y="2739" width="1215" height="128" rx="64" fill="url(#cc2G)"/>
<text x="1109" y="2825" font-size="72" fill="#fff" textLength="427" lengthAdjust="spacingAndGlyphs">Common Core</text>

<!-- ===== CERTIFIED GRADUATE ===== -->
<text x="177" y="3005" font-size="57" font-weight="bold" fill="#5a0ca0" textLength="597" lengthAdjust="spacingAndGlyphs">EPI Certified Graduate</text>
<path d="M819,2955 Q835,2958 845,2978 Q865,2945 911,2927 Q875,2955 850,3005 Q840,2972 819,2955 Z" fill="#6a6a6a"/>
<text x="885" y="3005" font-size="62" font-weight="bold" fill="#e2001a" textLength="90" lengthAdjust="spacingAndGlyphs">EPI</text>
<text x="978" y="2981" font-size="24" fill="#666" textLength="108" lengthAdjust="spacingAndGlyphs">CERTIFIED</text>
<text x="978" y="3005" font-size="22" fill="#666" textLength="105" lengthAdjust="spacingAndGlyphs">GRADUATE</text>
<g font-size="40" fill="#111">
<text x="180" y="3084" textLength="130" lengthAdjust="spacingAndGlyphs">With its</text>
<text x="325" y="3084" font-weight="bold" textLength="427" lengthAdjust="spacingAndGlyphs">EPI Certified Graduate</text>
<text x="759" y="3084" textLength="1100" lengthAdjust="spacingAndGlyphs">program, the EPI Group offers each student, upon graduation,</text>
<text x="1874" y="3084" font-weight="bold" textLength="431" lengthAdjust="spacingAndGlyphs">four free certifications</text>
<text x="180" y="3131" textLength="1612" lengthAdjust="spacingAndGlyphs">testifying to his or her mastery of the three skills required to enter the professional world :</text>
<text x="1800" y="3131" font-weight="bold" textLength="512" lengthAdjust="spacingAndGlyphs">Computer and digital skills,</text>
<text x="180" y="3176" font-weight="bold" textLength="955" lengthAdjust="spacingAndGlyphs">Linguistics, Communication and management skills</text>
</g>

<path d="M890,3246 L897,3258 L904,3246" fill="none" stroke="#f08a00" stroke-width="4"/>
<text x="758" y="3288" font-size="32" fill="#1d5e7c" textLength="265" lengthAdjust="spacing">CERTIPORT</text>
<line x1="756" y1="3297" x2="1017" y2="3297" stroke="#aaa" stroke-width="2"/>
<text x="820" y="3313" font-size="10" fill="#333" textLength="140" lengthAdjust="spacingAndGlyphs">A PEARSON VUE BUSINESS</text>
<circle cx="1193" cy="3231" r="12" fill="#fff" stroke="#c03" stroke-width="2"/>
<text x="1184" y="3235" font-size="10" font-weight="bold" fill="#0d4f9a">ETS</text>
<text x="1105" y="3305" font-size="68" font-weight="bold" font-style="italic" fill="#0d4f9a" textLength="170" lengthAdjust="spacingAndGlyphs">TOEIC</text>
<circle cx="1495" cy="3260" r="60" fill="url(#delfG)"/>
<circle cx="1482" cy="3268" r="30" fill="#fff"/>
<text x="1413" y="3289" font-size="44" font-weight="bold" fill="#1a3f80" textLength="75" lengthAdjust="spacingAndGlyphs">delf</text>
<text x="1413" y="3327" font-size="44" font-weight="bold" fill="#1a3f80" textLength="75" lengthAdjust="spacingAndGlyphs">dalf</text>

<rect x="2230" y="3282" width="186" height="179" fill="#fff"/>
<rect x="2230" y="3282" width="186" height="179" fill="url(#qr)"/>
<g><rect x="2228" y="3280" width="41" height="41" fill="#fff"/><rect x="2230" y="3282" width="35" height="35" rx="5" fill="#111"/><rect x="2235" y="3287" width="25" height="25" rx="3" fill="#fff"/><rect x="2240" y="3292" width="15" height="15" fill="#111"/>
<rect x="2377" y="3280" width="41" height="41" fill="#fff"/><rect x="2381" y="3282" width="35" height="35" rx="5" fill="#111"/><rect x="2386" y="3287" width="25" height="25" rx="3" fill="#fff"/><rect x="2391" y="3292" width="15" height="15" fill="#111"/>
<rect x="2228" y="3422" width="41" height="41" fill="#fff"/><rect x="2230" y="3426" width="35" height="35" rx="5" fill="#111"/><rect x="2235" y="3431" width="25" height="25" rx="3" fill="#fff"/><rect x="2240" y="3436" width="15" height="15" fill="#111"/></g>

<path d="M0,3389 H975 Q1060,3389 1100,3440 L1140,3482 H2480 V3508 H0 Z" fill="#8700f0"/>
<line x1="1140" y1="3483" x2="2480" y2="3483" stroke="#c8a0f6" stroke-width="3"/>
<text x="49" y="3443" font-size="44" fill="#fff" textLength="1010" lengthAdjust="spacingAndGlyphs">WWW.EPISUP.COM  |  73 29 60 60 / 31 32 51 01</text>
</svg>
</body></html>
